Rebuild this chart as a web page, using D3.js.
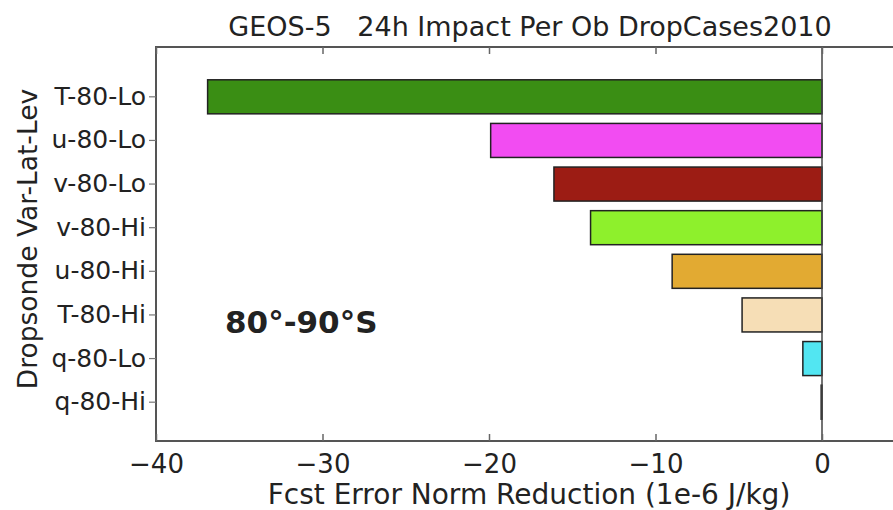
<!DOCTYPE html>
<html>
<head>
<meta charset="utf-8">
<script src="https://cdn.jsdelivr.net/npm/d3@7"></script>
<style>
  body { margin: 0; background: #fff; overflow: hidden; }
  svg { display: block; }
  text { font-family: "DejaVu Sans", Verdana, sans-serif; fill: #222; }
</style>
</head>
<body>
<div id="chart"></div>
<script>
// categories top to bottom
var categories = ["T-80-Lo", "u-80-Lo", "v-80-Lo", "v-80-Hi", "u-80-Hi", "T-80-Hi", "q-80-Lo", "q-80-Hi"];
// impact values (1e-6 J/kg)
var impacts = [-36.9, -19.9, -16.1, -13.9, -9.0, -4.8, -1.15, -0.05];
var barColors = ["#3a8e14", "#f24cf2", "#9c1c14", "#8ef02c", "#e2aa32", "#f6deb6", "#52e6f2", "#888888"];
var xTicks = [-40, -30, -20, -10, 0];

var svgWidth = 893, svgHeight = 510;
var plotLeft = 156, plotTop = 47, plotBottom = 441, plotRight = 893;

var svg = d3.select("#chart").append("svg")
  .attr("width", svgWidth)
  .attr("height", svgHeight);

var data = categories.map(function(c, i) {
  return { cat: c, value: impacts[i], color: barColors[i] };
});

// scales
var x = d3.scaleLinear()
  .domain([-40, 0])
  .range([plotLeft, 822]);

var y = d3.scaleBand()
  .domain(categories)
  .range([75, 424])
  .paddingInner(0.22)
  .paddingOuter(0.11);

// bars
svg.selectAll("rect.bar")
  .data(data)
  .enter()
  .append("rect")
  .attr("class", "bar")
  .attr("x", d => x(Math.min(0, d.value)))
  .attr("y", d => y(d.cat))
  .attr("width", d => Math.abs(x(d.value) - x(0)))
  .attr("height", y.bandwidth())
  .attr("fill", d => d.color)
  .attr("stroke", "#222")
  .attr("stroke-width", 1.5);

// zero line
svg.append("line")
  .attr("x1", x(0)).attr("x2", x(0))
  .attr("y1", plotTop).attr("y2", plotBottom)
  .attr("stroke", "#444")
  .attr("stroke-width", 1.5);

// frame (right side runs past the picture edge)
svg.append("path")
  .attr("d", `M${plotRight},${plotTop}H${plotLeft}V${plotBottom}H${plotRight}`)
  .attr("fill", "none")
  .attr("stroke", "#555")
  .attr("stroke-width", 2);

// bottom axis (inward ticks)
var bottomAxis = d3.axisBottom(x)
  .tickValues(xTicks)
  .tickSizeInner(-7)
  .tickSizeOuter(0)
  .tickPadding(14)
  .tickFormat(d => d < 0 ? "\u2212" + Math.abs(d) : d);

var bx = svg.append("g")
  .attr("transform", `translate(0, ${plotBottom})`)
  .call(bottomAxis);
bx.select(".domain").remove();
bx.selectAll("line").attr("stroke", "#666").attr("stroke-width", 1.5);
bx.selectAll("text").attr("font-size", "26px").attr("fill", "#222");

// top ticks
var topAxis = d3.axisTop(x)
  .tickValues(xTicks)
  .tickSizeInner(-7)
  .tickSizeOuter(0)
  .tickFormat("");
var tx = svg.append("g")
  .attr("transform", `translate(0, ${plotTop})`)
  .call(topAxis);
tx.select(".domain").remove();
tx.selectAll("line").attr("stroke", "#666").attr("stroke-width", 1.5);

// left axis (short outward ticks)
var leftAxis = d3.axisLeft(y)
  .tickSizeInner(7)
  .tickSizeOuter(0)
  .tickPadding(3);
var ly = svg.append("g")
  .attr("transform", `translate(${plotLeft}, 0)`)
  .call(leftAxis);
ly.select(".domain").remove();
ly.selectAll("line").attr("stroke", "#777").attr("stroke-width", 1.2);
ly.selectAll("text").attr("font-size", "25px").attr("fill", "#222");

// title
svg.append("text")
  .attr("x", 530)
  .attr("y", 36)
  .attr("text-anchor", "middle")
  .attr("font-size", "27px")
  .text("GEOS-5\u00a0\u00a0\u00a024h Impact Per Ob DropCases2010");

// axis labels
svg.append("text")
  .attr("x", 529)
  .attr("y", 504)
  .attr("text-anchor", "middle")
  .attr("font-size", "28px")
  .text("Fcst Error Norm Reduction (1e-6 J/kg)");

svg.append("text")
  .attr("transform", "rotate(-90)")
  .attr("x", -239)
  .attr("y", 37)
  .attr("text-anchor", "middle")
  .attr("font-size", "26.5px")
  .text("Dropsonde Var-Lat-Lev");

// region annotation
svg.append("text")
  .attr("x", 225)
  .attr("y", 333)
  .attr("font-family", "'Open Sans', sans-serif")
  .attr("font-weight", "bold")
  .attr("font-size", "31px")
  .attr("fill", "#000")
  .text("80\u00b0-90\u00b0S");
</script>
</body>
</html>
